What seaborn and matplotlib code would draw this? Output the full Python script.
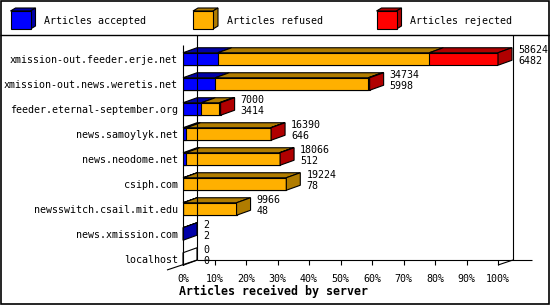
import numpy as np
import pandas as pd
import matplotlib
matplotlib.use("Agg")
import matplotlib.pyplot as plt
import seaborn as sns
from matplotlib.patches import Polygon, Rectangle
from matplotlib.lines import Line2D

# ---------------- data ----------------
servers = [
    "xmission-out.feeder.erje.net",
    "xmission-out.news.weretis.net",
    "feeder.eternal-september.org",
    "news.samoylyk.net",
    "news.neodome.net",
    "csiph.com",
    "newsswitch.csail.mit.edu",
    "news.xmission.com",
    "localhost",
]
totals = [58624, 34734, 7000, 16390, 18066, 19224, 9966, 2, 0]
accepted = [6482, 5998, 3414, 646, 512, 78, 48, 2, 0]
refused = [39360, 28486, 3328, 15674, 17454, 19146, 9918, 0, 0]
rejected = [12782, 250, 258, 70, 100, 0, 0, 0, 0]

series_names = ["Articles accepted", "Articles refused", "Articles rejected"]
x_ticks = [0, 10, 20, 30, 40, 50, 60, 70, 80, 90, 100]
x_title = "Articles received by server"

# ---------------- style ----------------
BLUE, BLUE_D = "#0000ff", "#0000a8"
ORANGE, ORANGE_D = "#ffb000", "#b07c00"
RED, RED_D = "#ff0000", "#b00000"
fronts = [BLUE, ORANGE, RED]
darks = [BLUE_D, ORANGE_D, RED_D]

sns.set_style("white")
plt.rcParams["font.family"] = ["DejaVu Sans Mono", "DejaVu Sans"]
plt.rcParams["text.color"] = "black"
plt.rcParams["xtick.color"] = "black"
plt.rcParams["ytick.color"] = "black"
plt.rcParams["axes.labelcolor"] = "black"

W, H = 550, 305
fig = plt.figure(figsize=(W / 100, H / 100), dpi=100)
fig.patch.set_facecolor("white")


def fx(px):
    return px / W


def fy(py):
    return 1 - py / H


# plot axes: 0%..100% -> px 183..498 ; rows -0.5..8.5 -> px 46.5..271.5
L, R, T, B = 183, 498, 46.5, 271.5
ax = fig.add_axes([fx(L), fy(B), (R - L) / W, (B - T) / H])
ax.set_facecolor("none")

mx = max(totals)
acc_pct = [a / mx * 100 for a in accepted]
accref_pct = [(a + r) / mx * 100 for a, r in zip(accepted, refused)]
tot_pct = [(a + r + j) / mx * 100 for a, r, j in zip(accepted, refused, rejected)]
df = pd.DataFrame({"server": servers, "acc": acc_pct, "accref": accref_pct, "tot": tot_pct})

BW = 0.5
LW = 0.8
for col, c in [("tot", RED), ("accref", ORANGE), ("acc", BLUE)]:
    sns.barplot(data=df, x=col, y="server", orient="h", color=c, saturation=1,
                width=BW, edgecolor="black", linewidth=LW, ax=ax, zorder=3)

ax.set_xlim(0, 100)
ax.set_ylim(8.5, -0.5)
for s in ax.spines.values():
    s.set_visible(False)
ax.set_xlabel("")
ax.set_ylabel("")

# 3D depth in data units
DXP, DYP = 14, 5
DX = DXP * 100 / ax.bbox.width
DY = DYP * 9 / ax.bbox.height

for i in range(len(servers)):
    bounds = [0, acc_pct[i], accref_pct[i], tot_pct[i]]
    yt, yb = i - BW / 2, i + BW / 2
    last = None
    vals = [accepted[i], refused[i], rejected[i]]
    for k in range(3):
        x0, x1 = bounds[k], bounds[k + 1]
        if vals[k] <= 0:
            continue
        last = (k, x1)
        ax.add_patch(Polygon([(x0, yt), (x1, yt), (x1 + DX, yt - DY), (x0 + DX, yt - DY)],
                             closed=True, facecolor=darks[k], edgecolor="black",
                             linewidth=LW, zorder=4, clip_on=False))
    if last is None:
        side_c, xe = "white", 0
    else:
        side_c, xe = darks[last[0]], last[1]
    ax.add_patch(Polygon([(xe, yt), (xe + DX, yt - DY), (xe + DX, yb - DY), (xe, yb)],
                         closed=True, facecolor=side_c, edgecolor="black",
                         linewidth=LW, zorder=4, clip_on=False))
    # value labels: total and accepted
    ax.annotate(str(totals[i]), xy=(xe, i), xytext=(20 * 0.72, 9 * 0.72),
                textcoords="offset points", ha="left", va="center", fontsize=7.2,
                zorder=6, annotation_clip=False)
    ax.annotate(str(accepted[i]), xy=(xe, i), xytext=(20 * 0.72, -2 * 0.72),
                textcoords="offset points", ha="left", va="center", fontsize=7.2,
                zorder=6, annotation_clip=False)

ax.set_xticks(x_ticks)
ax.set_xticklabels([f"{t}%" for t in x_ticks], fontsize=7.2)
ax.tick_params(axis="x", length=0, pad=2.0, colors="black")
ax.tick_params(axis="y", length=0, pad=3.6, labelsize=7.2, colors="black")

# ---------------- frame ----------------
def line(xs, ys, lw=0.8):
    fig.add_artist(Line2D([fx(x) for x in xs], [fy(y) for y in ys], color="black",
                          linewidth=lw, solid_capstyle="butt"))

BK = 35
line([183, 183], [45, 265])          # front left axis
line([197, 197], [BK, 260])          # back left wall
line([513, 513], [BK, 260])          # back right wall
line([197, 532], [260, 260])         # floor back line
line([167, 197], [270, 260])         # left floor diagonal
line([498, 513], [265, 260])         # right floor diagonal
for t in x_ticks[1:]:
    xp = L + t / 100 * (R - L)
    line([xp, xp], [260, 265])

# outer border and legend separator
fig.add_artist(Rectangle((0.001, 0.002), 0.997, 0.996, transform=fig.transFigure,
                         fill=False, edgecolor="black", linewidth=1.2))
line([0, W], [BK, BK], lw=1.0)

# ---------------- legend ----------------
leg_x = [10.5, 193, 376.5]
for lx, name, fc, dc in zip(leg_x, series_names, fronts, darks):
    x0, x1, y0, y1 = lx, lx + 20, 11, 29
    dx, dy = 5, 3
    fig.add_artist(Polygon([(fx(x0), fy(y0)), (fx(x0 + dx), fy(y0 - dy)),
                            (fx(x1 + dx), fy(y0 - dy)), (fx(x1), fy(y0))],
                           closed=True, facecolor=dc, edgecolor="black", linewidth=0.8,
                           transform=fig.transFigure))
    fig.add_artist(Polygon([(fx(x1), fy(y0)), (fx(x1 + dx), fy(y0 - dy)),
                            (fx(x1 + dx), fy(y1 - dy)), (fx(x1), fy(y1))],
                           closed=True, facecolor=dc, edgecolor="black", linewidth=0.8,
                           transform=fig.transFigure))
    fig.add_artist(Rectangle((fx(x0), fy(y1)), fx(x1 - x0), (y1 - y0) / H,
                             facecolor=fc, edgecolor="black", linewidth=0.8,
                             transform=fig.transFigure))
    fig.text(fx(lx + 34), fy(20.5), name, ha="left", va="center", fontsize=7.2)

fig.text(fx(179), fy(291.5), x_title, ha="left", va="center", fontsize=8.4,
         fontweight="bold")

fig.savefig("out.png", dpi=100)
